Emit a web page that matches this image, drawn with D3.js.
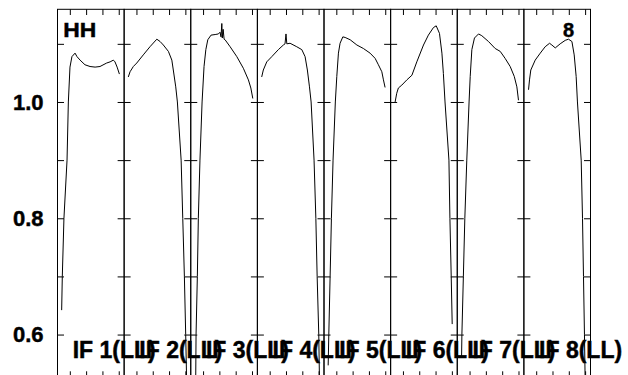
<!DOCTYPE html>
<html>
<head>
<meta charset="utf-8">
<script src="https://cdn.jsdelivr.net/npm/d3@7"></script>
<style>
  html, body { margin: 0; padding: 0; background: #fff; }
  svg { display: block; }
  text { font-family: "Liberation Sans", Arial, Helvetica, sans-serif; font-weight: bold; fill: #000; stroke: #000; stroke-width: 0.45px; }
</style>
</head>
<body>
<svg id="chart" width="628" height="375"></svg>
<script>
// ---------------- data ----------------
const panelIds = ["1", "2", "3", "4", "5", "6", "7", "8"];
const panelLabels = ["IF 1(LL)", "IF 2(LL)", "IF 3(LL)", "IF 4(LL)", "IF 5(LL)", "IF 6(LL)", "IF 7(LL)", "IF 8(LL)"];
const yTicks = [0.6, 0.7, 0.8, 0.9, 1.0, 1.1];
const yTickLabels = [0.6, 0.8, 1.0];
const xTicks = [0, 1, 2, 3];
const xDomain = [-0.755, 3.33];
const yDomain = [0.527, 1.1594];
const titleLeft = "HH";
const titleRight = "8";

// bandpass amplitude per IF: [x (tick units), amplitude]
const if1 = [[-0.50,0.642],[-0.46,0.70],[-0.36,0.80],[-0.17,0.90],[-0.09,1.00],[0.01,1.060],[0.13,1.078],[0.32,1.084],[0.44,1.078],[0.63,1.072],[0.93,1.064],[1.24,1.061],[1.55,1.060],[1.85,1.061],[2.26,1.067],[2.47,1.069],[2.67,1.072],[2.77,1.069],[2.90,1.060],[3.04,1.048]];
const if2 = [[-0.50,1.043],[-0.39,1.052],[-0.19,1.061],[0.02,1.067],[0.42,1.081],[0.83,1.095],[1.25,1.108],[1.45,1.104],[1.65,1.098],[1.96,1.087],[2.17,1.072],[2.26,1.055],[2.41,1.026],[2.51,1.000],[2.74,0.90],[2.84,0.80],[2.94,0.70],[3.02,0.60],[3.13,0.45]];
const if3 = [[-0.47,0.45],[-0.43,0.60],[-0.35,0.70],[-0.29,0.80],[-0.19,0.90],[-0.06,1.00],[0.06,1.061],[0.17,1.090],[0.29,1.107],[0.49,1.115],[0.74,1.116],[0.94,1.117],[1.04,1.120],[1.10,1.112],[1.15,1.135],[1.18,1.110],[1.23,1.125],[1.29,1.108],[1.35,1.107],[1.66,1.095],[2.07,1.078],[2.47,1.058],[2.78,1.038],[2.93,1.024],[3.05,1.006]];
const if4 = [[-0.49,1.043],[-0.39,1.055],[-0.18,1.069],[0.13,1.078],[0.53,1.090],[0.84,1.098],[0.94,1.100],[1.00,1.117],[1.05,1.100],[1.25,1.101],[1.66,1.095],[1.97,1.090],[2.17,1.078],[2.31,1.055],[2.44,1.026],[2.54,1.000],[2.72,0.90],[2.83,0.80],[2.91,0.70],[3.01,0.60],[3.09,0.45]];
const if5 = [[-0.50,0.547],[-0.46,0.60],[-0.38,0.70],[-0.30,0.80],[-0.20,0.90],[-0.06,1.00],[0.03,1.044],[0.13,1.084],[0.23,1.101],[0.40,1.112],[0.54,1.111],[0.85,1.107],[1.26,1.098],[1.66,1.092],[2.07,1.084],[2.38,1.075],[2.58,1.064],[2.79,1.052],[2.89,1.038],[2.99,1.025]];
const if6 = [[-0.48,1.000],[-0.38,1.015],[-0.28,1.024],[-0.07,1.029],[0.24,1.038],[0.55,1.046],[0.85,1.069],[1.26,1.098],[1.56,1.115],[1.87,1.128],[2.04,1.131],[2.24,1.118],[2.39,1.084],[2.48,1.049],[2.58,1.000],[2.82,0.90],[2.88,0.80],[2.96,0.70],[3.02,0.618]];
const if7 = [[-0.49,0.56],[-0.47,0.60],[-0.38,0.70],[-0.29,0.80],[-0.17,0.90],[-0.03,1.00],[0.04,1.044],[0.14,1.090],[0.30,1.110],[0.55,1.117],[0.75,1.114],[1.16,1.104],[1.57,1.092],[1.88,1.087],[2.18,1.075],[2.49,1.061],[2.74,1.044],[2.90,1.026],[3.00,1.003]];
const if8 = [[-0.47,1.021],[-0.41,1.038],[-0.33,1.055],[-0.06,1.072],[0.25,1.084],[0.55,1.095],[0.82,1.101],[0.96,1.098],[1.17,1.093],[1.47,1.100],[1.78,1.106],[1.98,1.108],[2.19,1.104],[2.33,1.081],[2.45,1.044],[2.53,1.000],[2.76,0.90],[2.84,0.80],[2.90,0.70],[2.96,0.60],[3.04,0.45]];
const seriesList = [if1, if2, if3, if4, if5, if6, if7, if8];

// ---------------- layout ----------------
const plotLeft = 57.5, plotRight = 590.5, plotTop = 9.3, plotBottom = 377;
const svg = d3.select("#chart");

const panelScale = d3.scaleBand().domain(panelIds).range([plotLeft, plotRight]).paddingInner(0).paddingOuter(0);
const pw = panelScale.bandwidth();
const y = d3.scaleLinear().domain(yDomain).range([plotBottom, plotTop]);

svg.append("defs").append("clipPath").attr("id", "plotclip")
  .append("rect").attr("x", plotLeft).attr("y", plotTop)
  .attr("width", plotRight - plotLeft).attr("height", plotBottom - plotTop);

const majorLen = 6.5, minorLen = 5.7;

panelIds.forEach((id, i) => {
  const x0 = panelScale(id);
  const x = d3.scaleLinear().domain(xDomain).range([x0, x0 + pw]);
  const g = svg.append("g");

  // curve
  const line = d3.line().x(d => x(d[0])).y(d => y(d[1]));
  g.append("path")
    .datum(seriesList[i])
    .attr("clip-path", "url(#plotclip)")
    .attr("d", line)
    .attr("fill", "none")
    .attr("stroke", "#000")
    .attr("stroke-width", 1);

  // top & bottom axis ticks
  const topAxis = d3.axisTop(x).tickValues(xTicks).tickSize(-minorLen).tickFormat("");
  const botAxis = d3.axisBottom(x).tickValues(xTicks).tickSize(-minorLen).tickFormat("");
  const ta = g.append("g").attr("transform", `translate(0,${plotTop})`).call(topAxis);
  const ba = g.append("g").attr("transform", `translate(0,${plotBottom})`).call(botAxis);
  [ta, ba].forEach(a => { a.select(".domain").remove(); a.selectAll("line").attr("stroke", "#000").attr("stroke-width", 1); });

  // left & right y ticks (inward)
  const leftAxis = d3.axisLeft(y).tickValues(yTicks).tickSize(-majorLen).tickFormat("");
  const rightAxis = d3.axisRight(y).tickValues(yTicks).tickSize(-majorLen).tickFormat("");
  const la = g.append("g").attr("transform", `translate(${x0},0)`).call(leftAxis);
  const ra = g.append("g").attr("transform", `translate(${x0 + pw},0)`).call(rightAxis);
  [la, ra].forEach(a => { a.select(".domain").remove(); a.selectAll("line").attr("stroke", "#000").attr("stroke-width", 1); });

  // panel frame
  g.append("rect").attr("x", x0).attr("y", plotTop).attr("width", pw).attr("height", plotBottom - plotTop)
    .attr("fill", "none").attr("stroke", "#000").attr("stroke-width", 1);

  // IF label
  svg.append("text").attr("x", x0 + 15.2).attr("y", 358)
    .attr("font-size", 23).text(panelLabels[i]);
});

// y tick labels
svg.append("g").selectAll("text").data(yTickLabels).join("text")
  .attr("x", 43.5).attr("y", d => y(d)).attr("dy", "0.36em")
  .attr("text-anchor", "end").attr("font-size", 22)
  .text(d => d3.format(".1f")(d));

// titles
svg.append("text").attr("x", 63.3).attr("y", 37).attr("font-size", 20)
  .attr("textLength", 33).attr("lengthAdjust", "spacingAndGlyphs").text(titleLeft);
svg.append("text").attr("x", panelScale("8") + 39).attr("y", 37.3).attr("font-size", 20).text(titleRight);
</script>
</body>
</html>
